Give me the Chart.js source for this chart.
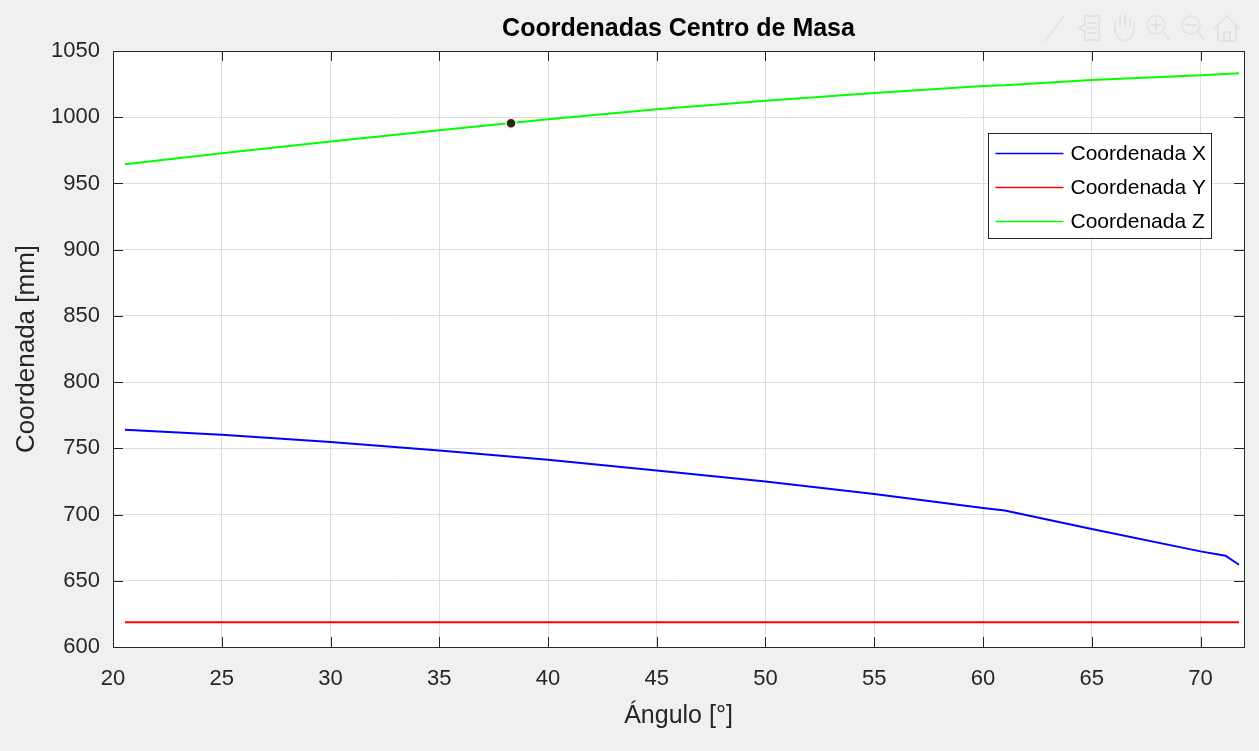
<!DOCTYPE html>
<html lang="es">
<head>
<meta charset="utf-8">
<title>Coordenadas Centro de Masa</title>
<script src="https://cdn.jsdelivr.net/npm/chart.js@4.4.1/dist/chart.umd.min.js"></script>
<style>
  html, body { margin: 0; padding: 0; background: #f0f0f0; }
  #contenedor { width: 1259px; height: 751px; }
</style>
</head>
<body>
<div id="contenedor"><canvas id="graficoCM" width="1259" height="751"></canvas></div>
<script>
// Ángulo de inclinación [°]
const angulos = [20.55, 25, 30, 35, 40, 45, 50, 55, 60, 61, 65, 70, 71.15, 71.77];
// Coordenadas del centro de masa [mm]
const coordX = [764.0, 760.2, 754.7, 748.4, 741.4, 733.3, 725.0, 715.5, 704.9, 703.0, 689.1, 672.2, 668.9, 662.1];
const coordY = [618.6, 618.6, 618.6, 618.6, 618.6, 618.6, 618.6, 618.6, 618.6, 618.6, 618.6, 618.6, 618.6, 618.6];
const coordZ = [964.5, 972.8, 981.6, 990.2, 998.4, 1006.0, 1012.5, 1018.3, 1023.6, 1024.2, 1028.1, 1031.7, 1032.6, 1033.2];

// Punto señalado sobre la curva Z
const marcaAngulo = [38.3];
const marcaZ = [995.4];

const ticksX = [20, 25, 30, 35, 40, 45, 50, 55, 60, 65, 70];
const ticksY = [600, 650, 700, 750, 800, 850, 900, 950, 1000, 1050];

const FUENTE = '"Liberation Sans", Arial, Helvetica, sans-serif';
const GRIS_EJE = '#262626';

function puntos(xs, ys) {
    return xs.map((x, i) => ({ x: x, y: ys[i] }));
}

// Fondo blanco del área de trazado
const fondoEjes = {
    id: 'fondoEjes',
    beforeDraw(chart) {
        const { ctx, chartArea: a } = chart;
        ctx.save();
        ctx.fillStyle = '#ffffff';
        ctx.fillRect(a.left, a.top, a.right - a.left, a.bottom - a.top);
        ctx.restore();
    }
};

// Caja de ejes con marcas hacia dentro en los cuatro lados (estilo MATLAB)
const cajaEjes = {
    id: 'cajaEjes',
    afterDatasetsDraw(chart) {
        const { ctx, chartArea: a, scales } = chart;
        const largo = 10;
        ctx.save();
        ctx.strokeStyle = GRIS_EJE;
        ctx.lineWidth = 1;
        ctx.beginPath();
        scales.x.ticks.forEach(t => {
            const px = Math.round(scales.x.getPixelForValue(t.value)) + 0.5;
            ctx.moveTo(px, a.bottom); ctx.lineTo(px, a.bottom - largo);
            ctx.moveTo(px, a.top); ctx.lineTo(px, a.top + largo);
        });
        scales.y.ticks.forEach(t => {
            const py = Math.round(scales.y.getPixelForValue(t.value)) + 0.5;
            ctx.moveTo(a.left, py); ctx.lineTo(a.left + largo, py);
            ctx.moveTo(a.right, py); ctx.lineTo(a.right - largo, py);
        });
        ctx.stroke();
        ctx.strokeRect(Math.round(a.left) + 0.5, Math.round(a.top) + 0.5,
            Math.round(a.right - a.left), Math.round(a.bottom - a.top));
        ctx.restore();
    }
};

// Leyenda dentro de los ejes, arriba a la derecha
const leyendaEjes = {
    id: 'leyendaEjes',
    afterDraw(chart) {
        const { ctx, chartArea: a } = chart;
        const series = chart.data.datasets.filter(d => d.label);
        const ancho = 223, alto = 105;
        const x0 = Math.round(a.right - 33) - ancho + 0.5;
        const y0 = Math.round(a.top + 82) + 0.5;
        ctx.save();
        ctx.fillStyle = '#ffffff';
        ctx.fillRect(x0, y0, ancho, alto);
        ctx.strokeStyle = GRIS_EJE;
        ctx.lineWidth = 1;
        ctx.strokeRect(x0, y0, ancho, alto);
        ctx.font = '21px ' + FUENTE;
        ctx.textBaseline = 'middle';
        ctx.fillStyle = '#000000';
        series.forEach((d, i) => {
            const yf = y0 + 20 + i * 34;
            ctx.strokeStyle = d.borderColor;
            ctx.lineWidth = 1.5;
            ctx.beginPath();
            ctx.moveTo(x0 + 7, yf);
            ctx.lineTo(x0 + 75, yf);
            ctx.stroke();
            ctx.fillText(d.label, x0 + 82, yf + 1);
        });
        ctx.restore();
    }
};

// Barra de herramientas de los ejes (iconos tenues)
const barraHerramientas = {
    id: 'barraHerramientas',
    afterDraw(chart) {
        const { ctx, chartArea: a } = chart;
        const yc = a.top - 23;
        const xs = [-190, -155, -121, -86, -51, -17].map(d => a.right + d);
        ctx.save();
        ctx.strokeStyle = '#e3e3e3';
        ctx.lineWidth = 2;
        ctx.lineCap = 'round';
        // pincel
        ctx.beginPath();
        ctx.moveTo(xs[0] - 9, yc + 13); ctx.lineTo(xs[0] + 10, yc - 12);
        ctx.stroke();
        // cursor de datos
        ctx.beginPath();
        ctx.moveTo(xs[1] - 4, yc - 12); ctx.lineTo(xs[1] + 10, yc - 12);
        ctx.lineTo(xs[1] + 10, yc + 12); ctx.lineTo(xs[1] - 4, yc + 12);
        ctx.lineTo(xs[1] - 4, yc + 3); ctx.lineTo(xs[1] - 11, yc);
        ctx.lineTo(xs[1] - 4, yc - 3); ctx.closePath();
        ctx.moveTo(xs[1] - 1, yc - 5); ctx.lineTo(xs[1] + 7, yc - 5);
        ctx.moveTo(xs[1] - 1, yc); ctx.lineTo(xs[1] + 7, yc);
        ctx.moveTo(xs[1] - 1, yc + 5); ctx.lineTo(xs[1] + 7, yc + 5);
        ctx.stroke();
        // mano
        ctx.beginPath();
        ctx.moveTo(xs[2] - 8, yc + 2);
        ctx.lineTo(xs[2] - 8, yc - 6); ctx.moveTo(xs[2] - 3, yc - 2);
        ctx.lineTo(xs[2] - 3, yc - 12); ctx.moveTo(xs[2] + 2, yc - 2);
        ctx.lineTo(xs[2] + 2, yc - 13); ctx.moveTo(xs[2] + 7, yc - 2);
        ctx.lineTo(xs[2] + 7, yc - 10);
        ctx.moveTo(xs[2] - 8, yc + 2);
        ctx.quadraticCurveTo(xs[2] - 6, yc + 13, xs[2] + 2, yc + 13);
        ctx.quadraticCurveTo(xs[2] + 11, yc + 12, xs[2] + 11, yc - 2);
        ctx.lineTo(xs[2] + 11, yc - 6);
        ctx.stroke();
        // zoom + y zoom -
        [xs[3], xs[4]].forEach((xc, k) => {
            ctx.beginPath();
            ctx.arc(xc - 2, yc - 3, 9, 0, Math.PI * 2);
            ctx.moveTo(xc + 5, yc + 4); ctx.lineTo(xc + 11, yc + 11);
            ctx.moveTo(xc - 7, yc - 3); ctx.lineTo(xc + 3, yc - 3);
            if (k === 0) { ctx.moveTo(xc - 2, yc - 8); ctx.lineTo(xc - 2, yc + 2); }
            ctx.stroke();
        });
        // inicio
        ctx.beginPath();
        ctx.moveTo(xs[5] - 12, yc); ctx.lineTo(xs[5], yc - 12); ctx.lineTo(xs[5] + 12, yc);
        ctx.moveTo(xs[5] - 9, yc - 2); ctx.lineTo(xs[5] - 9, yc + 13); ctx.lineTo(xs[5] + 9, yc + 13);
        ctx.lineTo(xs[5] + 9, yc - 2);
        ctx.moveTo(xs[5] - 3, yc + 13); ctx.lineTo(xs[5] - 3, yc + 4); ctx.lineTo(xs[5] + 3, yc + 4);
        ctx.lineTo(xs[5] + 3, yc + 13);
        ctx.stroke();
        ctx.restore();
    }
};

const ctx = document.getElementById('graficoCM').getContext('2d');
const grafico = new Chart(ctx, {
    type: 'scatter',
    data: {
        datasets: [
            {
                label: 'Coordenada X',
                data: puntos(angulos, coordX),
                borderColor: '#0000ff',
                showLine: true, borderWidth: 2, pointRadius: 0, tension: 0
            },
            {
                label: 'Coordenada Y',
                data: puntos(angulos, coordY),
                borderColor: '#ff0000',
                showLine: true, borderWidth: 2, pointRadius: 0, tension: 0
            },
            {
                label: 'Coordenada Z',
                data: puntos(angulos, coordZ),
                borderColor: '#00ff00',
                showLine: true, borderWidth: 2, pointRadius: 0, tension: 0
            },
            {
                data: puntos(marcaAngulo, marcaZ),
                order: -1,
                showLine: false,
                pointRadius: 5,
                pointBackgroundColor: '#262626',
                pointBorderColor: 'rgba(255, 250, 200, 0.95)',
                pointBorderWidth: 1.5
            }
        ]
    },
    options: {
        responsive: false,
        animation: false,
        devicePixelRatio: 1,
        layout: { padding: { left: 0, right: 15, top: 0, bottom: 0 } },
        plugins: {
            legend: { display: false },
            tooltip: { enabled: false },
            title: {
                display: true,
                fullSize: false,
                text: 'Coordenadas Centro de Masa',
                color: '#000000',
                font: { family: FUENTE, size: 25, weight: 'bold', lineHeight: 1.2 },
                padding: { top: 14, bottom: 7 }
            }
        },
        scales: {
            x: {
                type: 'linear',
                min: 20,
                max: 72,
                afterBuildTicks: (eje) => { eje.ticks = ticksX.map(v => ({ value: v })); },
                afterFit: (eje) => { eje.height = 104; },
                grid: { color: '#dedede', lineWidth: 1, drawTicks: false },
                border: { display: false },
                ticks: {
                    padding: 19,
                    color: GRIS_EJE,
                    font: { family: FUENTE, size: 22 },
                    maxRotation: 0,
                    callback: (v) => String(v)
                },
                title: {
                    display: true,
                    text: 'Ángulo [°]',
                    color: GRIS_EJE,
                    font: { family: FUENTE, size: 25, lineHeight: 1.2 },
                    padding: { top: 0, bottom: 20 }
                }
            },
            y: {
                type: 'linear',
                min: 600,
                max: 1050,
                afterBuildTicks: (eje) => { eje.ticks = ticksY.map(v => ({ value: v })); },
                afterFit: (eje) => { eje.width = 113; },
                grid: { color: '#dedede', lineWidth: 1, drawTicks: false },
                border: { display: false },
                ticks: {
                    padding: 13,
                    color: GRIS_EJE,
                    font: { family: FUENTE, size: 22 },
                    callback: (v) => String(v)
                },
                title: {
                    display: true,
                    text: 'Coordenada [mm]',
                    color: GRIS_EJE,
                    font: { family: FUENTE, size: 26, lineHeight: 1.2 },
                    padding: { top: 11, bottom: 0 }
                }
            }
        }
    },
    plugins: [fondoEjes, cajaEjes, leyendaEjes, barraHerramientas]
});
</script>
</body>
</html>
